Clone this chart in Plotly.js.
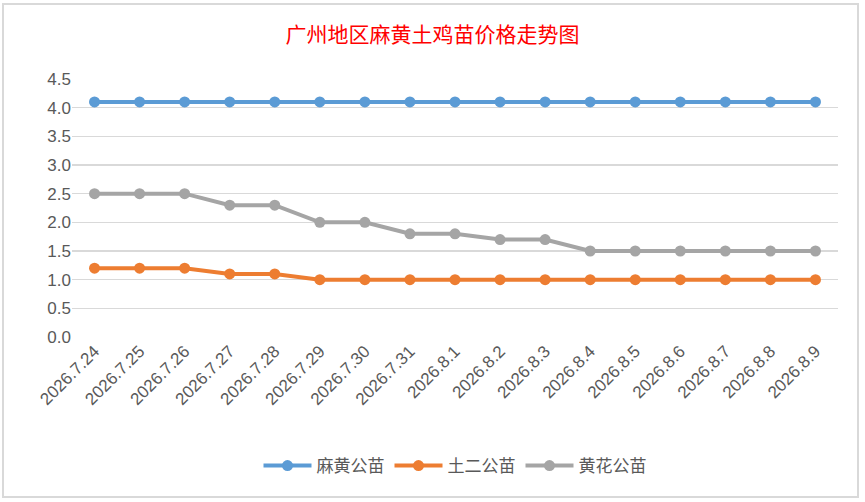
<!DOCTYPE html>
<html>
<head>
<meta charset="utf-8">
<script src="https://cdn.plot.ly/plotly-3.0.1.min.js"></script>
<style>
  html, body { margin: 0; padding: 0; background: #fff; }
  #wrap { position: relative; width: 865px; height: 502px; }
  #chart { width: 865px; height: 502px; }
  #frame { position: absolute; left: 2px; top: 3px; width: 853px; height: 491px;
           border: 2px solid #d9d9d9; pointer-events: none; }
</style>
</head>
<body>
<div id="wrap">
  <div id="chart"></div>
  <div id="frame"></div>
</div>
<script>
// dates shown on the category axis
const dates = [
	"2026.7.24", "2026.7.25", "2026.7.26", "2026.7.27", "2026.7.28", "2026.7.29",
	"2026.7.30", "2026.7.31", "2026.8.1", "2026.8.2", "2026.8.3", "2026.8.4",
	"2026.8.5", "2026.8.6", "2026.8.7", "2026.8.8", "2026.8.9",
];

// prices per series
const mahuang = [4.1, 4.1, 4.1, 4.1, 4.1, 4.1, 4.1, 4.1, 4.1, 4.1, 4.1, 4.1, 4.1, 4.1, 4.1, 4.1, 4.1];
const tuer = [1.2, 1.2, 1.2, 1.1, 1.1, 1.0, 1.0, 1.0, 1.0, 1.0, 1.0, 1.0, 1.0, 1.0, 1.0, 1.0, 1.0];
const huanghua = [2.5, 2.5, 2.5, 2.3, 2.3, 2.0, 2.0, 1.8, 1.8, 1.7, 1.7, 1.5, 1.5, 1.5, 1.5, 1.5, 1.5];

const yTicks = [0, 0.5, 1, 1.5, 2, 2.5, 3, 3.5, 4, 4.5];

function series(name, values, color) {
	return {
		x: dates,
		y: values,
		name: name,
		type: "scatter",
		mode: "lines+markers",
		line: { color: color, width: 4 },
		marker: { color: color, size: 11 },
	};
}

const data = [
	series("麻黄公苗", mahuang, "#5b9bd5"),
	series("土二公苗", tuer, "#ed7d31"),
	series("黄花公苗", huanghua, "#a5a5a5"),
];

const layout = {
	width: 865,
	height: 502,
	paper_bgcolor: "rgba(0, 0, 0, 0)",
	plot_bgcolor: "rgba(0, 0, 0, 0)",
	margin: { l: 72, r: 27, t: 79, b: 165 },
	title: {
		text: "广州地区麻黄土鸡苗价格走势图",
		font: { family: "Noto Sans CJK SC", size: 21, color: "#ff0000" },
		x: 0.5,
		xanchor: "center",
		y: 0.93,
		yanchor: "middle",
	},
	xaxis: {
		type: "category",
		range: [-0.5, 16.5],
		tickangle: -45,
		showgrid: false,
		showline: false,
		ticks: "",
		fixedrange: true,
		tickfont: { family: "Liberation Sans", size: 17, color: "#595959" },
	},
	yaxis: {
		range: [0, 4.5],
		tickvals: yTicks,
		tickformat: ".1f",
		showgrid: true,
		gridcolor: "#d9d9d9",
		gridwidth: 1.5,
		zeroline: false,
		showline: false,
		ticks: "",
		ticklen: 0,
		fixedrange: true,
		tickfont: { family: "Liberation Sans", size: 17, color: "#595959" },
	},
	legend: {
		orientation: "h",
		x: 0.5,
		xanchor: "center",
		y: -0.5,
		yanchor: "middle",
		itemwidth: 48,
		font: { family: "Noto Sans CJK SC", size: 17, color: "#595959" },
	},
	showlegend: true,
};

const config = {
	displayModeBar: false,
	staticPlot: true,
};

Plotly.newPlot("chart", data, layout, config);
</script>
</body>
</html>
